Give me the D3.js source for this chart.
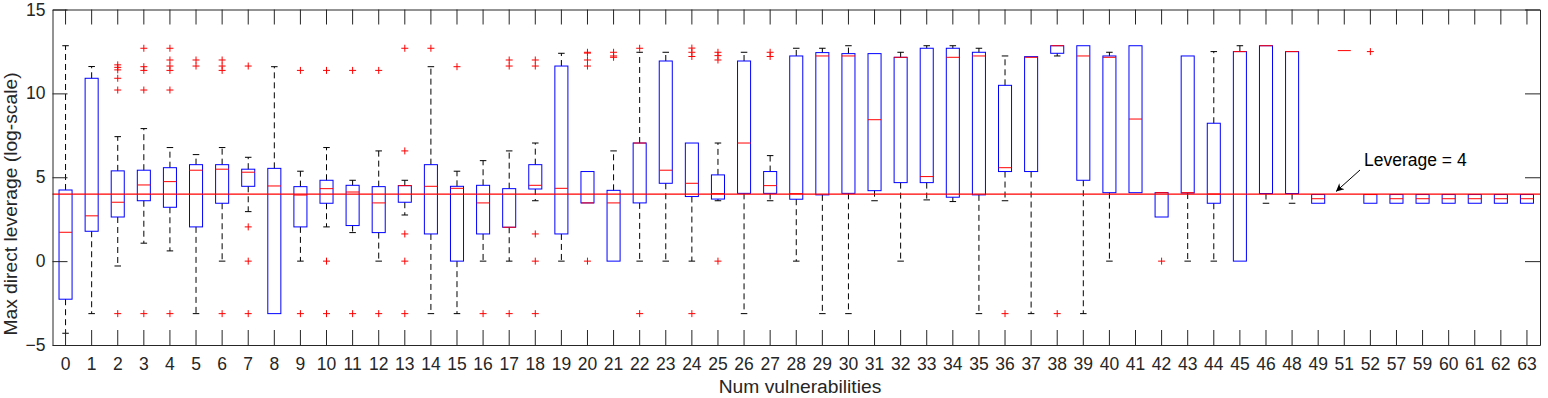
<!DOCTYPE html>
<html>
<head>
<meta charset="utf-8">
<script src="https://cdn.jsdelivr.net/npm/d3@7"></script>
<style>
  html, body { margin: 0; padding: 0; background: #fff; }
  svg { display: block; font-family: "Liberation Sans", Arial, Helvetica, sans-serif; }
  .axis path, .axis line { stroke: #262626; }
  .axis text { fill: #262626; font-size: 17.5px; }
</style>
</head>
<body>
<div id="chart"></div>
<script>
// Box-plot summary per number of vulnerabilities.
const categories = [
  '0','1','2','3','4','5','6','7','8','9','10','11','12','13','14','15','16','17','18','19',
  '20','21','22','23','24','25','26','27','28','29','30','31','32','33','34','35','36','37','38','39',
  '40','41','42','43','44','45','46','48','49','51','52','57','59','60','61','62','63'
];
const whiskerLo = [
  -4.3, -3.13, -0.29, 1.07, 0.61, -3.13, 0, 2.95, -3.13, 0, 2.04, 1.7, 0, 2.75, -3.13, -3.13, 0, 0, 3.6, 0,
  3.47, 0, 0, 0, 0, 3.6, -3.13, 3.6, 0, -3.13, -3.13, 3.6, 0, 3.65, 3.55, -3.13, 3.6, -3.13, 12.23, -3.13,
  0, 4.08, 2.63, 0, 0, 0, 3.45, 3.45, 3.45, 12.55, 3.45, 3.45, 3.45, 3.45, 3.45, 3.45, 3.45
];
const q1 = [
  -2.27, 1.78, 2.63, 3.6, 3.21, 2.04, 3.45, 4.46, -3.13, 2.04, 3.45, 2.12, 1.7, 3.51, 1.62, 0, 1.62, 2.02, 4.3, 1.62,
  3.47, 0, 3.47, 4.64, 3.85, 3.7, 4.04, 4.04, 3.69, 3.95, 4.04, 4.2, 4.68, 4.68, 3.81, 3.95, 5.34, 5.34, 12.39, 4.82,
  4.08, 4.08, 2.63, 4.06, 3.45, 0, 4.03, 4.03, 3.45, 12.55, 3.45, 3.45, 3.45, 3.45, 3.45, 3.45, 3.45
];
const medians = [
  1.72, 2.7, 3.51, 4.54, 4.74, 5.42, 5.48, 5.3, 4.48, 3.94, 4.32, 4.12, 3.47, 4.5, 4.46, 4.34, 3.47, 2.02, 4.52, 4.34,
  3.47, 3.47, 7.04, 5.42, 4.64, 4.02, 7.04, 4.5, 4.02, 12.23, 12.23, 8.43, 12.15, 5.04, 12.15, 12.23, 5.57, 12.15, 12.84, 12.23,
  12.15, 8.47, 4.08, 4.08, 4.0, 12.49, 12.84, 12.49, 3.72, 12.55, 3.97, 3.72, 3.72, 3.72, 3.72, 3.72, 3.72
];
const q3 = [
  4.24, 10.9, 5.38, 5.42, 5.57, 5.75, 5.75, 5.48, 5.53, 4.44, 4.82, 4.52, 4.44, 4.5, 5.75, 4.46, 4.52, 4.32, 5.75, 11.63,
  5.34, 4.22, 7.04, 11.93, 7.04, 5.14, 11.93, 5.34, 12.23, 12.43, 12.37, 12.37, 12.15, 12.69, 12.69, 12.45, 10.48, 12.19, 12.84, 12.84,
  12.23, 12.84, 4.08, 12.23, 8.22, 12.49, 12.84, 12.49, 3.97, 12.55, 3.97, 3.97, 3.97, 3.97, 3.97, 3.97, 3.97
];
const whiskerHi = [
  12.84, 11.6, 7.42, 7.9, 6.77, 6.35, 6.77, 6.19, 11.59, 5.36, 6.77, 4.82, 6.57, 4.82, 11.59, 5.36, 5.99, 6.57, 7.04, 12.39,
  5.34, 6.57, 12.45, 12.45, 7.04, 7.04, 12.45, 6.29, 12.69, 12.69, 12.84, 12.37, 12.45, 12.84, 12.84, 12.69, 12.23, 12.19, 12.84, 12.84,
  12.45, 12.84, 4.08, 12.23, 12.49, 12.84, 12.84, 12.49, 3.97, 12.55, 3.97, 3.97, 3.97, 3.97, 3.97, 3.97, 3.97
];
const outliers = [
  [], [], [11.7, 11.55, 11.4, 10.9, 10.2, -3.13], [12.69, 11.59, 11.37, 10.2, -3.13],
  [12.69, 11.99, 11.63, 11.37, 10.2, -3.13], [11.99, 11.63], [11.99, 11.63, 11.37, -3.13], [11.63, 2.04, 0, -3.13],
  [], [11.37, -3.13], [11.37, 0, -3.13], [11.37, -3.13], [11.37, -3.13], [12.69, 6.57, 1.62, 0, -3.13],
  [12.69], [11.59], [-3.13], [11.99, 11.63, -3.13], [11.99, 11.63, 1.62, 0, -3.13], [],
  [12.45, 12.4, 11.99, 11.63, 0], [12.45, 12.23, 12.15], [12.69, -3.13], [], [12.7, 12.45, 12.2, -3.13],
  [12.45, 12.25, 11.99, 0], [], [12.45, 12.2], [], [], [], [], [], [], [], [], [-3.13], [], [-3.13], [],
  [], [], [0], [], [], [], [], [], [], [], [12.49], [], [], [], [], [], []
];
const yTicks = [-5, 0, 5, 10, 15];
const refLevel = 4;

const W = 1548, H = 398;
const margin = { left: 52.5, right: 8, top: 9.5, bottom: 53 };

const rows = categories.map((c, i) => ({
  cat: c, lo: whiskerLo[i], q1: q1[i], med: medians[i], q3: q3[i], hi: whiskerHi[i], out: outliers[i]
}));

const svg = d3.select('#chart').append('svg').attr('width', W).attr('height', H);
svg.append('rect').attr('width', W).attr('height', H).attr('fill', '#fff');

const x = d3.scaleBand().domain(categories).range([margin.left, W - margin.right]).padding(0);
const y = d3.scaleLinear().domain([-5, 15]).range([H - margin.bottom, margin.top]);
const bw = x.bandwidth();
const boxW = bw * 0.5;
const capW = boxW * 0.5;
const cx = d => x(d.cat) + bw / 2;

const plot = svg.append('g');
const grp = plot.selectAll('g.box').data(rows).enter().append('g').attr('class', 'box');

// whiskers (dashed) + caps
grp.filter(d => d.hi > d.q3).append('line')
  .attr('x1', cx).attr('x2', cx).attr('y1', d => y(d.q3)).attr('y2', d => y(d.hi))
  .attr('stroke', '#000').attr('stroke-width', 1).attr('stroke-dasharray', '6,4');
grp.filter(d => d.hi > d.q3).append('line')
  .attr('x1', d => cx(d) - capW / 2).attr('x2', d => cx(d) + capW / 2)
  .attr('y1', d => y(d.hi)).attr('y2', d => y(d.hi))
  .attr('stroke', '#000').attr('stroke-width', 1);
grp.filter(d => d.lo < d.q1).append('line')
  .attr('x1', cx).attr('x2', cx).attr('y1', d => y(d.q1)).attr('y2', d => y(d.lo))
  .attr('stroke', '#000').attr('stroke-width', 1).attr('stroke-dasharray', '6,4');
grp.filter(d => d.lo < d.q1).append('line')
  .attr('x1', d => cx(d) - capW / 2).attr('x2', d => cx(d) + capW / 2)
  .attr('y1', d => y(d.lo)).attr('y2', d => y(d.lo))
  .attr('stroke', '#000').attr('stroke-width', 1);

// boxes
grp.append('rect')
  .attr('x', d => cx(d) - boxW / 2).attr('width', boxW)
  .attr('y', d => y(d.q3)).attr('height', d => Math.max(0, y(d.q1) - y(d.q3)))
  .attr('fill', 'none').attr('stroke', '#0000ff').attr('stroke-width', 1);

// medians
grp.append('line')
  .attr('x1', d => cx(d) - boxW / 2).attr('x2', d => cx(d) + boxW / 2)
  .attr('y1', d => y(d.med)).attr('y2', d => y(d.med))
  .attr('stroke', '#ff0000').attr('stroke-width', 1);

// outliers as '+'
const arm = 3.5;
grp.each(function (d) {
  const g = d3.select(this);
  const px = cx(d);
  d.out.forEach(v => {
    const py = y(v);
    g.append('path')
      .attr('d', `M${px - arm},${py}H${px + arm}M${px},${py - arm}V${py + arm}`)
      .attr('stroke', '#ff0000').attr('stroke-width', 1).attr('fill', 'none');
  });
});

// reference line at leverage = 4
plot.append('line')
  .attr('x1', margin.left).attr('x2', W - margin.right)
  .attr('y1', y(refLevel)).attr('y2', y(refLevel))
  .attr('stroke', '#ff0000').attr('stroke-width', 1.3);

// axes: ticks point inward on all four sides
const tick = 15;
svg.append('g').attr('class', 'axis')
  .attr('transform', `translate(0,${H - margin.bottom})`)
  .call(d3.axisBottom(x).tickSizeInner(-tick).tickSizeOuter(0).tickPadding(13));
svg.append('g').attr('class', 'axis')
  .attr('transform', `translate(0,${margin.top})`)
  .call(d3.axisTop(x).tickSizeInner(-tick).tickSizeOuter(0).tickFormat(''));
svg.append('g').attr('class', 'axis')
  .attr('transform', `translate(${margin.left},0)`)
  .call(d3.axisLeft(y).tickValues(yTicks).tickSizeInner(-tick).tickSizeOuter(0).tickPadding(7));
svg.append('g').attr('class', 'axis')
  .attr('transform', `translate(${W - margin.right},0)`)
  .call(d3.axisRight(y).tickValues(yTicks).tickSizeInner(-tick).tickSizeOuter(0).tickFormat(''));

// axis labels (1.1x the tick font, as in the source figure)
svg.append('text')
  .attr('x', 800).attr('y', 393)
  .attr('text-anchor', 'middle').attr('fill', '#262626').attr('font-size', 19.25)
  .text('Num vulnerabilities');
svg.append('text')
  .attr('transform', 'translate(17,204) rotate(-90)')
  .attr('text-anchor', 'middle').attr('fill', '#262626').attr('font-size', 19.25)
  .text('Max direct leverage (log-scale)');

// annotation arrow + label
const defs = svg.append('defs');
defs.append('marker').attr('id', 'arrowhead')
  .attr('viewBox', '0 0 10 10').attr('refX', 10).attr('refY', 5)
  .attr('markerWidth', 10).attr('markerHeight', 8).attr('markerUnits', 'userSpaceOnUse')
  .attr('orient', 'auto')
  .append('path').attr('d', 'M0,0L10,5L0,10L3,5Z').attr('fill', '#000');
svg.append('line')
  .attr('x1', 1360).attr('y1', 170).attr('x2', 1336).attr('y2', 191.5)
  .attr('stroke', '#000').attr('stroke-width', 1).attr('marker-end', 'url(#arrowhead)');
svg.append('text')
  .attr('x', 1364).attr('y', 166).attr('fill', '#000').attr('font-size', 17.5)
  .text('Leverage = 4');
</script>
</body>
</html>
